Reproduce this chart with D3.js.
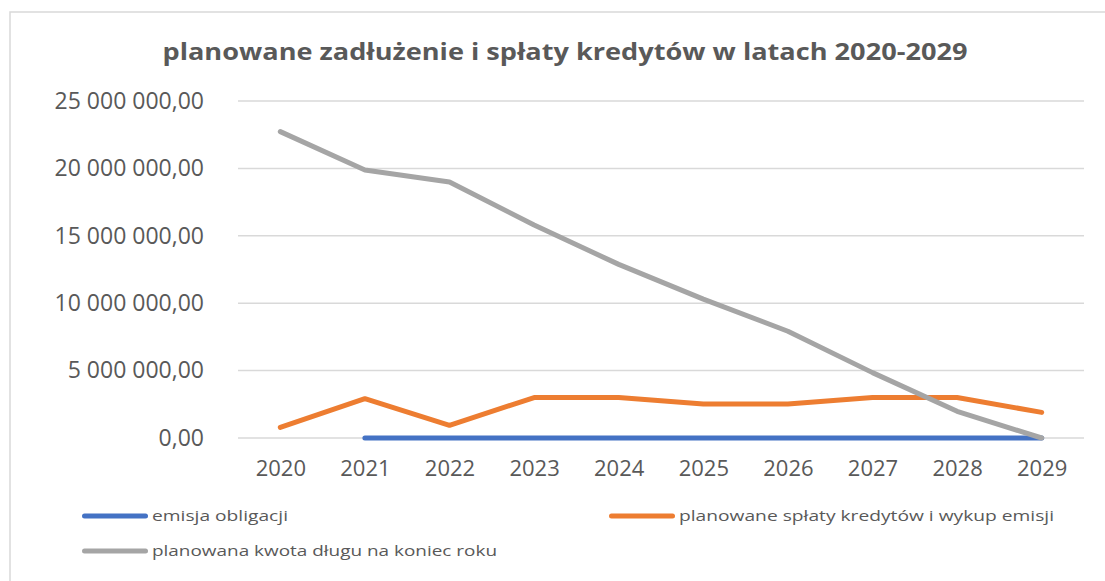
<!DOCTYPE html>
<html>
<head>
<meta charset="utf-8">
<script src="https://cdn.jsdelivr.net/npm/d3@7"></script>
<style>
  body { margin: 0; background: #fff; }
  text { font-family: "Open Sans", sans-serif; fill: #595959; }
</style>
</head>
<body>
<div id="chart"></div>
<script>
// data
var years = ["2020", "2021", "2022", "2023", "2024", "2025", "2026", "2027", "2028", "2029"];
var emisja = [null, 0, 0, 0, 0, 0, 0, 0, 0, 0];
var splaty = [790000, 2920000, 940000, 3000000, 3000000, 2530000, 2530000, 3000000, 3000000, 1900000];
var dlug = [22730000, 19880000, 18990000, 15800000, 12880000, 10300000, 7920000, 4850000, 1980000, 0];
var yTicks = [0, 5000000, 10000000, 15000000, 20000000, 25000000];
var seriesNames = ["emisja obligacji", "planowane spłaty kredytów i wykup emisji", "planowana kwota długu na koniec roku"];
var seriesColors = ["#4472C4", "#ED7D31", "#A5A5A5"];

var W = 1105, H = 581;
var margin = {top: 101, right: 21, bottom: 143, left: 238},
    width = W - margin.left - margin.right,
    height = H - margin.top - margin.bottom;

var svg = d3.select("#chart")
  .append("svg")
    .attr("width", W)
    .attr("height", H);

// chart frame
svg.append("rect")
  .attr("x", 10).attr("y", 12)
  .attr("width", W + 20).attr("height", H + 20)
  .attr("fill", "none")
  .attr("stroke", "#d9d9d9")
  .attr("stroke-width", 1.5);

// title
svg.append("text")
  .attr("x", 565).attr("y", 60)
  .attr("text-anchor", "middle")
  .attr("font-size", 23)
  .attr("font-weight", "bold")
  .attr("textLength", 805)
  .attr("lengthAdjust", "spacingAndGlyphs")
  .text("planowane zadłużenie i spłaty kredytów w latach 2020-2029");

var g = svg.append("g")
  .attr("transform", "translate(" + margin.left + "," + margin.top + ")");

var x = d3.scalePoint()
  .domain(years)
  .range([0, width])
  .padding(0.5);

var y = d3.scaleLinear()
  .domain([0, 25000000])
  .range([height, 0]);

var pl = d3.formatLocale({decimal: ",", thousands: " ", grouping: [3], currency: ["", " zł"]});
var fmt = pl.format(",.2f");

// gridlines
g.selectAll(".grid")
  .data(yTicks)
  .enter()
  .append("line")
    .attr("x1", 0).attr("x2", width)
    .attr("y1", function(d) { return y(d) })
    .attr("y2", function(d) { return y(d) })
    .attr("stroke", "#d9d9d9")
    .attr("stroke-width", 1.5);

// Y axis
var yAxis = g.append("g")
  .attr("transform", "translate(-31,0)")
  .call(d3.axisLeft(y).tickValues(yTicks).tickFormat(fmt).tickSize(0));
yAxis.select(".domain").remove();
yAxis.selectAll("text")
  .attr("font-size", 23)
  .attr("font-family", "Open Sans, sans-serif")
  .attr("fill", "#595959");

// X axis
var xAxis = g.append("g")
  .attr("transform", "translate(0," + height + ")")
  .call(d3.axisBottom(x).tickSize(0));
xAxis.select(".domain").remove();
xAxis.selectAll("text")
  .attr("y", 22)
  .attr("font-size", 22)
  .attr("font-family", "Open Sans, sans-serif")
  .attr("fill", "#595959");

var series = [emisja, splaty, dlug];

var line = d3.line()
  .defined(function(d) { return d.v !== null })
  .x(function(d) { return x(d.year) })
  .y(function(d) { return y(d.v) });

series.forEach(function(vals, i) {
  var data = years.map(function(yr, j) { return {year: yr, v: vals[j]} });
  g.append("path")
    .datum(data)
    .attr("fill", "none")
    .attr("stroke", seriesColors[i])
    .attr("stroke-width", 5)
    .attr("stroke-linecap", "round")
    .attr("stroke-linejoin", "round")
    .attr("d", line);
});

// legend
var legendPos = [{x: 82, y: 516, w: 136}, {x: 609, y: 516, w: 375}, {x: 82, y: 551, w: 345}];
var legend = svg.selectAll(".legend")
  .data(seriesNames)
  .enter()
  .append("g")
    .attr("transform", function(d, i) { return "translate(" + legendPos[i].x + "," + legendPos[i].y + ")" });

legend.append("line")
  .attr("x1", 2.5).attr("x2", 63.5)
  .attr("y1", 0).attr("y2", 0)
  .attr("stroke", function(d, i) { return seriesColors[i] })
  .attr("stroke-width", 5)
  .attr("stroke-linecap", "round");

legend.append("text")
  .attr("x", 70)
  .attr("y", 5)
  .attr("font-size", 15)
  .attr("textLength", function(d, i) { return legendPos[i].w })
  .attr("lengthAdjust", "spacingAndGlyphs")
  .text(function(d) { return d });
</script>
</body>
</html>
